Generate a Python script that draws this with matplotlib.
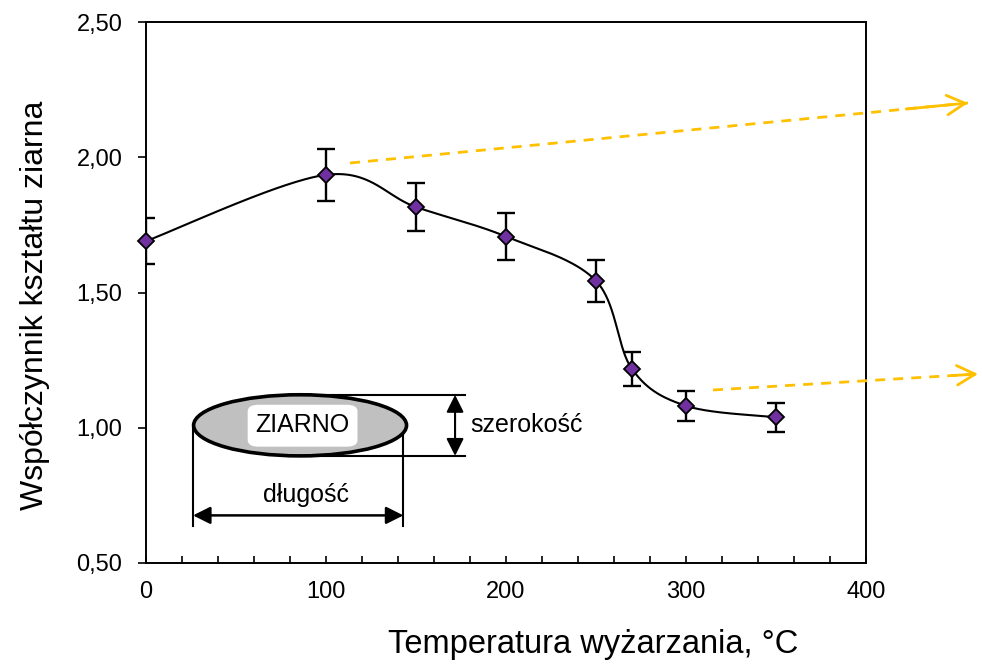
import matplotlib
matplotlib.use("Agg")
import matplotlib.pyplot as plt
import matplotlib.ticker as mticker
from matplotlib.patches import Ellipse, FancyArrowPatch, FancyBboxPatch
from matplotlib.lines import Line2D
import numpy as np

# data
temperature = [0, 100, 150, 200, 250, 270, 300, 350]
shape_factor = [1.69, 1.935, 1.816, 1.707, 1.543, 1.217, 1.081, 1.039]
shape_err = [0.085, 0.095, 0.09, 0.087, 0.077, 0.062, 0.055, 0.053]

x_label = "Temperatura wyżarzania, °C"
y_label = "Współczynnik kształtu ziarna"

FONT = "Liberation Sans"
PURPLE = "#7030A0"
ORANGE = "#FFC000"
W, H = 982, 667

plt.rcParams["font.family"] = [FONT, "DejaVu Sans"]


def px(x, y):
    # figure pixel (from top-left) -> figure fraction
    return x / W, 1 - y / H


def smooth_curve(xs, ys, n=60):
    """Excel-like smoothed line (Catmull-Rom as cubic Bezier)."""
    pts = np.column_stack([xs, ys]).astype(float)
    padded = np.vstack([pts[0], pts, pts[-1]])
    t = np.linspace(0, 1, n)[:, None]
    out = []
    for i in range(len(pts) - 1):
        p0, p1, p2, p3 = padded[i], padded[i + 1], padded[i + 2], padded[i + 3]
        c1 = p1 + (p2 - p0) / 6
        c2 = p2 - (p3 - p1) / 6
        seg = ((1 - t) ** 3 * p1 + 3 * (1 - t) ** 2 * t * c1
               + 3 * (1 - t) * t ** 2 * c2 + t ** 3 * p2)
        out.append(seg if i == 0 else seg[1:])
    return np.vstack(out)


fig = plt.figure(figsize=(W / 100, H / 100), dpi=100)
fig.patch.set_facecolor("white")
ax = fig.add_axes([146 / W, 1 - 563 / H, 720 / W, 541 / H])

# error bars, smoothed line, markers
ax.errorbar(temperature, shape_factor, yerr=shape_err, fmt="none",
            ecolor="black", elinewidth=1.7, capsize=6.5, capthick=1.7, zorder=3)
curve = smooth_curve(temperature, shape_factor)
ax.plot(curve[:, 0], curve[:, 1], color="black", linewidth=1.5, zorder=4)
ax.plot(temperature, shape_factor, linestyle="none", marker="D", markersize=8,
        markerfacecolor=PURPLE, markeredgecolor="black", markeredgewidth=1.3,
        zorder=5, clip_on=False)

ax.set_xlim(0, 400)
ax.set_ylim(0.5, 2.5)
ax.xaxis.set_major_locator(mticker.MultipleLocator(100))
ax.xaxis.set_minor_locator(mticker.MultipleLocator(20))
ax.yaxis.set_major_locator(mticker.MultipleLocator(0.5))
ax.yaxis.set_major_formatter(
    mticker.FuncFormatter(lambda v, _: f"{v:.2f}".replace(".", ",")))

ax.tick_params(axis="x", which="both", direction="in", length=5, width=1.2,
               labelsize=17, pad=13)
ax.tick_params(axis="y", which="major", direction="out", length=6, width=1.2,
               labelsize=17, pad=11)
for s in ax.spines.values():
    s.set_linewidth(1.4)
    s.set_color("black")

fig.text(*px(35, 305), y_label, rotation=90, ha="center", va="center",
         fontsize=23)
fig.text(*px(593, 645), x_label, ha="center", va="center", fontsize=23.5)

# grain sketch (in data coordinates)
ax.add_patch(Ellipse((85.6, 1.009), 118.3, 0.226, facecolor="#C0C0C0",
                     edgecolor="black", linewidth=2.6, zorder=2))
ax.add_patch(FancyBboxPatch((56.5, 0.93), 61, 0.155,
                            boxstyle="round,pad=0,rounding_size=6",
                            facecolor="white", edgecolor="none", zorder=2,
                            mutation_aspect=0.004))
ax.text(86.9, 1.01, "ZIARNO", ha="center", va="center", fontsize=18, zorder=3)

for yy in (1.1216, 0.896):
    ax.add_line(Line2D([85.6, 177.2], [yy, yy], color="black", linewidth=1.5,
                       zorder=2))
ax.add_patch(FancyArrowPatch((171.7, 0.896), (171.7, 1.1216),
                             arrowstyle="<|-|>,head_length=0.7,head_width=0.35",
                             mutation_scale=15, color="black", linewidth=1.5,
                             shrinkA=0, shrinkB=0, zorder=2))
ax.text(180, 1.01, "szerokość", ha="left", va="center", fontsize=18)

for xx in (26.1, 143.0):
    ax.add_line(Line2D([xx, xx], [1.009, 0.635], color="black", linewidth=1.5,
                       zorder=1))
ax.add_patch(FancyArrowPatch((26.1, 0.676), (143.0, 0.676),
                             arrowstyle="<|-|>,head_length=0.7,head_width=0.35",
                             mutation_scale=15, color="black", linewidth=1.8,
                             shrinkA=0, shrinkB=0, zorder=2))
ax.text(88.8, 0.752, "długość", ha="center", va="center", fontsize=18)

# orange dashed arrows leaving the plot to the right
for (x0, y0), (x1, y1) in [((350, 163), (968, 103)), ((713, 390), (978, 374))]:
    a, b = px(x0, y0), px(x1, y1)
    fig.add_artist(Line2D([a[0], b[0]], [a[1], b[1]], transform=fig.transFigure,
                          color=ORANGE, linewidth=2.0,
                          linestyle=(0, (3.6, 2.9))))
    back = px(x1 - 0.1 * (x1 - x0), y1 - 0.1 * (y1 - y0))
    fig.add_artist(FancyArrowPatch(back, b, transform=fig.transFigure,
                                   arrowstyle="->,head_length=0.65,head_width=0.35",
                                   mutation_scale=20, color=ORANGE,
                                   linewidth=2.0, shrinkA=0, shrinkB=0))

fig.savefig("out.png", dpi=100, facecolor="white")
